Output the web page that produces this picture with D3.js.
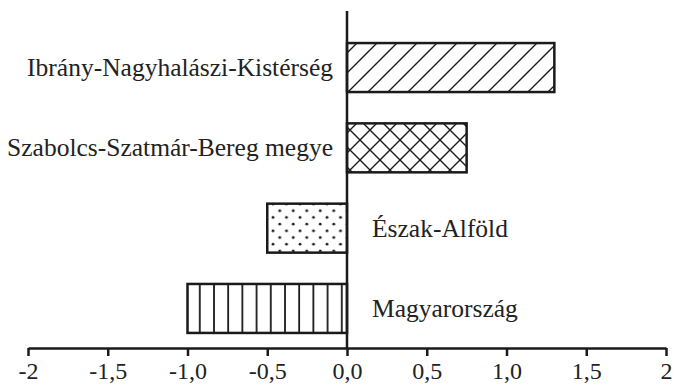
<!DOCTYPE html>
<html><head><meta charset="utf-8">
<script src="https://cdn.jsdelivr.net/npm/d3@7"></script>
<style>body{margin:0;background:#fff}svg{display:block}</style>
</head><body><svg id="c" width="676" height="388"></svg>
<script>
const categories = ["Ibrány-Nagyhalászi-Kistérség","Szabolcs-Szatmár-Bereg megye","Észak-Alföld","Magyarország"];
const values = [1.3, 0.75, -0.5, -1.0];
const patterns = ["diag","cross","dots","vert"];
const tickValues = [-2,-1.5,-1,-0.5,0,0.5,1,1.5,2];
const tickLabels = ["-2","-1,5","-1,0","-0,5","0,0","0,5","1,0","1,5","2"];

const FONT = "Liberation Serif";
const svg = d3.select("#c");
const x = d3.scaleLinear().domain([-2,2]).range([28,666]);
const y = d3.scaleBand().domain(categories).range([27,349]).paddingInner(0.39).paddingOuter(0.2);
const axisY = 348;

const defs = svg.append("defs");
const ink = "#1a1a1a";
let p = defs.append("pattern").attr("id","diag").attr("patternUnits","userSpaceOnUse").attr("width",20).attr("height",20);
p.append("path").attr("d","M0,20L20,0M-5,5L5,-5M15,25L25,15").attr("stroke",ink).attr("stroke-width",1.4);
p = defs.append("pattern").attr("id","cross").attr("patternUnits","userSpaceOnUse").attr("width",20).attr("height",20);
p.append("path").attr("d","M0,20L20,0M-5,5L5,-5M15,25L25,15M0,0L20,20M-5,15L5,25M15,-5L25,5").attr("stroke",ink).attr("stroke-width",1.4);
p = defs.append("pattern").attr("id","dots").attr("patternUnits","userSpaceOnUse").attr("width",13.5).attr("height",13.4);
p.append("circle").attr("cx",3).attr("cy",3).attr("r",1.4).attr("fill",ink);
p.append("circle").attr("cx",9.75).attr("cy",9.7).attr("r",1.4).attr("fill",ink);
p = defs.append("pattern").attr("id","vert").attr("patternUnits","userSpaceOnUse").attr("width",14.2).attr("height",10);
p.append("path").attr("d","M1,0V10").attr("stroke",ink).attr("stroke-width",1.8);

const data = categories.map((c,i)=>({c, v: values[i], p: patterns[i]}));

svg.selectAll("rect.bar").data(data).join("rect").attr("class","bar")
  .attr("x", d=>x(Math.min(0,d.v))).attr("width", d=>Math.abs(x(d.v)-x(0)))
  .attr("y", d=>y(d.c)).attr("height", y.bandwidth())
  .attr("fill", d=>`url(#${d.p})`).attr("stroke", ink).attr("stroke-width",2.5);

svg.selectAll("text.lab").data(data).join("text").attr("class","lab")
  .attr("x", d=> d.v>=0 ? x(0)-14 : x(0)+25)
  .attr("y", d=>y(d.c)+y.bandwidth()/2)
  .attr("dy","0.33em")
  .attr("text-anchor", d=> d.v>=0 ? "end":"start")
  .attr("font-family",FONT).attr("fill","#222")
  .attr("font-size",25.5).text(d=>d.c);

svg.append("line").attr("x1",x(0)).attr("x2",x(0)).attr("y1",11).attr("y2",axisY).attr("stroke",ink).attr("stroke-width",2.5);

const ax = svg.append("g").attr("transform",`translate(0,${axisY})`)
  .call(d3.axisBottom(x).tickValues(tickValues).tickFormat((d,i)=>tickLabels[i]).tickSize(8).tickPadding(6).tickSizeOuter(0));
ax.attr("font-family",FONT);
ax.select(".domain").attr("stroke",ink).attr("stroke-width",2.5);
ax.selectAll(".tick line").attr("stroke",ink).attr("stroke-width",2.5);
ax.selectAll(".tick text").attr("font-size",24).attr("font-family",FONT).attr("fill","#222");
</script></body></html>
